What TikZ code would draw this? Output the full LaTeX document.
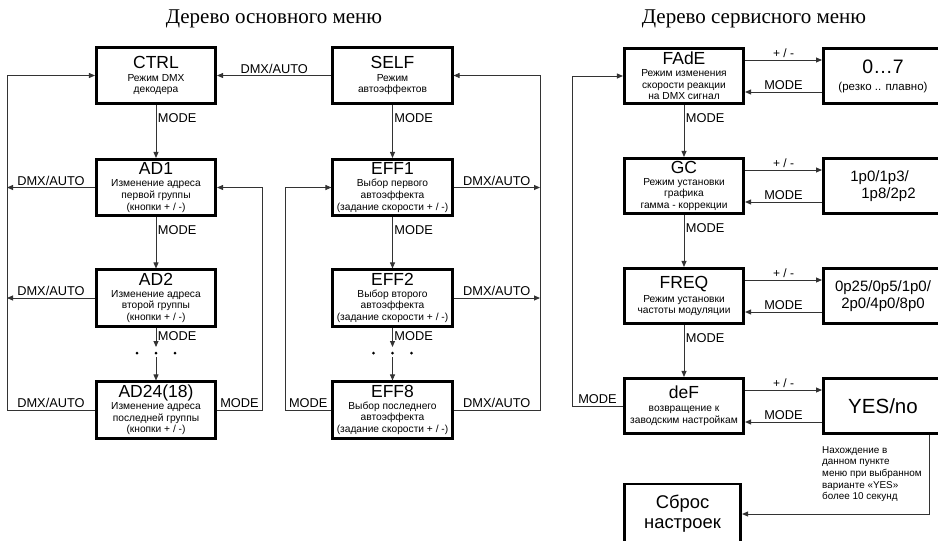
\documentclass[tikz,border=0pt]{standalone}
\usepackage{fontspec}
\setmainfont{Liberation Serif}
\setsansfont{Liberation Sans}
\usetikzlibrary{arrows.meta}

\tikzset{
  box/.style={draw,line width=2.6pt,minimum width=119.5pt,minimum height=56.5pt,
    align=center,inner sep=0pt,font=\sffamily\fontsize{10.2}{11.8}\selectfont},
  valbox/.style={draw,line width=2.6pt,minimum width=119.4pt,minimum height=55.5pt,
    align=center,inner sep=0pt,font=\sffamily\fontsize{15}{17}\selectfont},
  conn/.style={draw=black!80,line width=0.9pt},
  arr/.style={conn,-{Triangle[length=6pt,width=5pt]}},
  lab/.style={font=\sffamily\fontsize{12.8}{14}\selectfont,inner sep=1.5pt},
  pm/.style={font=\sffamily\fontsize{12}{14}\selectfont,inner sep=2pt},
  dot/.style={circle,fill,inner sep=0pt,minimum size=3pt},
}
\newcommand{\ttl}[1]{{\fontsize{17.5}{18}\selectfont #1}}

\begin{document}
\begin{tikzpicture}[x=1pt,y=-1pt]
    \useasboundingbox (0,0) rectangle (938,541);
    % titles
    \node[font=\fontsize{21}{24}\selectfont] (ttlmain) at (274,19) {Дерево основного меню};
    \node[font=\fontsize{21}{24}\selectfont] (ttlserv) at (754,19) {Дерево сервисного меню};

    % main menu
    \node[box] (ctrl) at (156,75.5) {\ttl{CTRL}\\[1pt]Режим DMX\\декодера};
    \node[box] (self) at (392.5,75.5) {\ttl{SELF}\\[1pt]Режим\\автоэффектов};
    \node[box] (ad1) at (156,187.5) {\ttl{AD1}\\Изменение адреса\\первой группы\\(кнопки + / -)};
    \node[box] (ad2) at (156,298) {\ttl{AD2}\\Изменение адреса\\второй группы\\(кнопки + / -)};
    \node[box] (ad24) at (156,410) {\ttl{AD24(18)}\\Изменение адреса\\последней группы\\(кнопки + / -)};
    \node[box] (eff1) at (392.5,187.5) {\ttl{EFF1}\\Выбор первого\\автоэффекта\\(задание скорости + / -)};
    \node[box] (eff2) at (392.5,298) {\ttl{EFF2}\\Выбор второго\\автоэффекта\\(задание скорости + / -)};
    \node[box] (eff8) at (392.5,410) {\ttl{EFF8}\\Выбор последнего\\автоэффекта\\(задание скорости + / -)};
    \node[dot] (adA) at (137,353) {};
    \node[dot] (adB) at (156,353) {};
    \node[dot] (adC) at (175,353) {};
    \node[dot] (efA) at (373.5,353) {};
    \node[dot] (efB) at (392.5,353) {};
    \node[dot] (efC) at (411.5,353) {};
    \coordinate (lrail) at (7,0);
    \coordinate (lin) at (262,0);
    \coordinate (rin) at (285,0);
    \coordinate (rrail) at (540,0);

    \draw[arr] (self.west) -- node[lab,above]{DMX/AUTO} (ctrl.east);
    \draw[arr] (ctrl) -- node[lab,anchor=west,pos=0.25]{MODE} (ad1);
    \draw[arr] (ad1) -- node[lab,anchor=west,pos=0.25]{MODE} (ad2);
    \draw[arr] (ad2) -- node[lab,anchor=west,pos=0.45]{MODE} ([yshift=6pt]adB.center);
    \draw[arr] ([yshift=-4pt]adB.center) -- (ad24);
    \draw[arr] (self) -- node[lab,anchor=west,pos=0.25]{MODE} (eff1);
    \draw[arr] (eff1) -- node[lab,anchor=west,pos=0.25]{MODE} (eff2);
    \draw[arr] (eff2) -- node[lab,anchor=west,pos=0.45]{MODE} ([yshift=6pt]efB.center);
    \draw[arr] ([yshift=-4pt]efB.center) -- (eff8);

    \draw[arr] (ad24.west) -- node[lab,above]{DMX/AUTO} (ad24.west -| lrail) -- (ctrl.west -| lrail) -- (ctrl.west);
    \draw[arr] (ad1.west) -- node[lab,above]{DMX/AUTO} (ad1.west -| lrail);
    \draw[arr] (ad2.west) -- node[lab,above]{DMX/AUTO} (ad2.west -| lrail);
    \draw[arr] (ad24.east) -- node[lab,above]{MODE} (ad24.east -| lin) -- (ad1.east -| lin) -- (ad1.east);

    \draw[arr] (eff8.east) -- node[lab,above]{DMX/AUTO} (eff8.east -| rrail) -- (self.east -| rrail) -- (self.east);
    \draw[arr] (eff1.east) -- node[lab,above]{DMX/AUTO} (eff1.east -| rrail);
    \draw[arr] (eff2.east) -- node[lab,above]{DMX/AUTO} (eff2.east -| rrail);
    \draw[arr] (eff8.west) -- node[lab,above]{MODE} (eff8.west -| rin) -- (eff1.west -| rin) -- (eff1.west);

    % service menu
    \node[box,minimum height=55.5pt] (fade) at (684,76) {\ttl{FAdE}\\Режим изменения\\скорости реакции\\на DMX сигнал};
    \node[box,minimum height=55.5pt] (gc) at (684,186) {\ttl{GC}\\Режим установки\\графика\\гамма - коррекции};
    \node[box,minimum height=55.5pt] (freq) at (684,296) {\ttl{FREQ}\\[2pt]Режим установки\\частоты модуляции};
    \node[box,minimum height=55.5pt] (def) at (684,406) {\ttl{deF}\\[1pt]возвращение к\\заводским настройкам};
    \node[valbox] (vfade) at (883,76) {{\fontsize{19.5}{20}\selectfont 0…7}\\{\fontsize{11.5}{13}\selectfont (резко .. плавно)}};
    \node[valbox,align=left] (vgc) at (883,186) {1p0/1p3/\\\hspace*{11pt}1p8/2p2};
    \node[valbox] (vfreq) at (883,296) {0p25/0p5/1p0/\\2p0/4p0/8p0};
    \node[valbox,font=\sffamily\fontsize{20.5}{22}\selectfont] (vdef) at (883,406) {YES/no};
    \node[valbox,minimum width=116.5pt,minimum height=60pt,font=\sffamily\fontsize{18.4}{20}\selectfont] (reset) at (682.5,514) {Сброс\\настроек};
    \node[anchor=north west,align=left,inner sep=0pt,font=\sffamily\fontsize{9.9}{11.7}\selectfont] (note) at (822,446) {Нахождение в\\данном пункте\\меню при выбранном\\варианте «YES»\\более 10 секунд};
    \coordinate (srail) at (572,0);
    \coordinate (yrail) at (929,0);

    \foreach \a/\b in {fade/vfade,gc/vgc,freq/vfreq,def/vdef}{
        \draw[arr] ([yshift=16pt]\a.east) -- node[pm,above]{+ / -} ([yshift=16pt]\b.west);
        \draw[arr] ([yshift=-16pt]\b.west) -- node[lab,above]{MODE} ([yshift=-16pt]\a.east);
    }
    \draw[arr] (fade) -- node[lab,anchor=west,pos=0.25]{MODE} (gc);
    \draw[arr] (gc) -- node[lab,anchor=west,pos=0.25]{MODE} (freq);
    \draw[arr] (freq) -- node[lab,anchor=west,pos=0.25]{MODE} (def);
    \draw[arr] (def.west) -- node[lab,above]{MODE} (def.west -| srail) -- (fade.west -| srail) -- (fade.west);
    \draw[arr] (vdef.south -| yrail) -- (reset.east -| yrail) -- (reset.east);
\end{tikzpicture}
\end{document}
